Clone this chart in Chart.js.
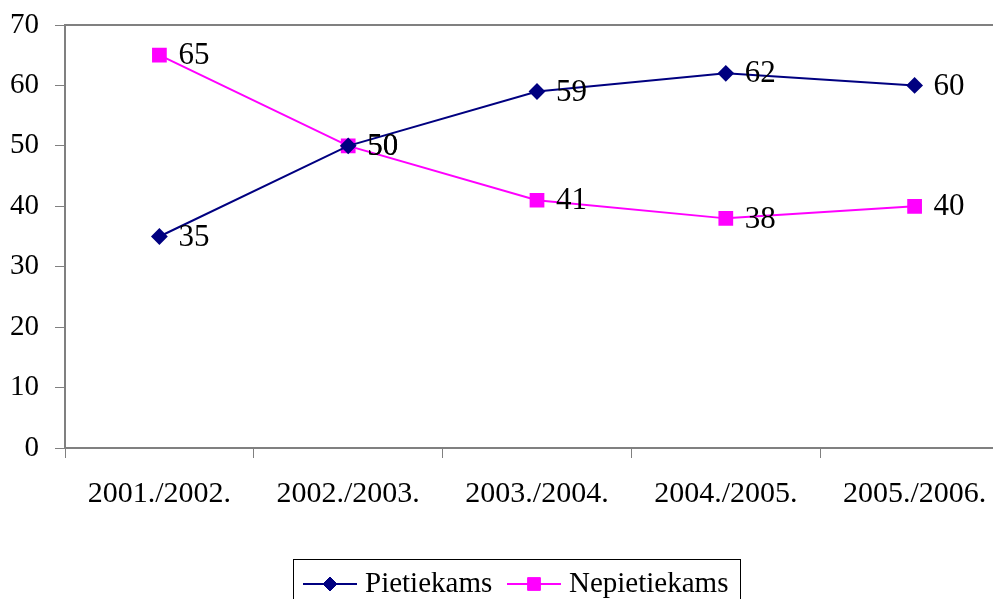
<!DOCTYPE html>
<html>
<head>
<meta charset="utf-8">
<script src="https://cdn.jsdelivr.net/npm/chart.js@4"></script>
<style>
  html, body { margin: 0; padding: 0; background: #fff; overflow: hidden; }
  #wrap { width: 1020px; height: 599px; }
</style>
</head>
<body>
<div id="wrap"><canvas id="chart"></canvas></div>
<script>
// Mācību gadi
var categories = ['2001./2002.', '2002./2003.', '2003./2004.', '2004./2005.', '2005./2006.'];
var pietiekams = [35, 50, 59, 62, 60];
var nepietiekams = [65, 50, 41, 38, 40];
var yTicks = [0, 10, 20, 30, 40, 50, 60, 70];

var serif = "'Liberation Serif', 'Times New Roman', serif";

// vērtību etiķetes pa labi no punktiem
var valueLabels = {
    id: 'valueLabels',
    afterDatasetsDraw: function(chart) {
        var ctx = chart.ctx;
        ctx.save();
        ctx.font = '31px ' + serif;
        ctx.fillStyle = '#000';
        ctx.textAlign = 'left';
        ctx.textBaseline = 'middle';
        chart.data.datasets.forEach(function(ds, i) {
            chart.getDatasetMeta(i).data.forEach(function(pt, j) {
                ctx.fillText(ds.data[j], pt.x + 19, pt.y + 1);
            });
        });
        ctx.restore();
    }
};

// rāmis augšā (zīmēšanas laukuma robeža)
var plotBorder = {
    id: 'plotBorder',
    afterDraw: function(chart) {
        var a = chart.chartArea, ctx = chart.ctx;
        ctx.save();
        ctx.strokeStyle = '#808080';
        ctx.lineWidth = 2;
        ctx.beginPath();
        ctx.moveTo(a.left, a.top);
        ctx.lineTo(a.right, a.top);
        ctx.stroke();
        ctx.restore();
    }
};

// leģenda kā Excel: līnija ar marķieri un rāmis
var excelLegend = {
    id: 'excelLegend',
    afterDraw: function(chart) {
        var ctx = chart.ctx;
        var bx = 293, by = 559, bw = 447, bh = 60;
        ctx.save();
        ctx.fillStyle = '#fff';
        ctx.fillRect(bx, by, bw, bh);
        ctx.strokeStyle = '#000';
        ctx.lineWidth = 1;
        ctx.strokeRect(bx + 0.5, by + 0.5, bw, bh);
        var items = [
            { x: 303, tx: 365 },
            { x: 507, tx: 569 }
        ];
        var cy = 584;
        chart.data.datasets.forEach(function(ds, i) {
            var it = items[i];
            ctx.strokeStyle = ds.borderColor;
            ctx.lineWidth = 2;
            ctx.beginPath();
            ctx.moveTo(it.x, cy);
            ctx.lineTo(it.x + 54, cy);
            ctx.stroke();
            ctx.fillStyle = ds.pointBackgroundColor;
            ctx.strokeStyle = ds.pointBorderColor;
            ctx.lineWidth = 1;
            Chart.helpers.drawPoint(ctx, {
                pointStyle: ds.pointStyle,
                radius: ds.pointRadius,
                borderWidth: 1,
                rotation: 0
            }, it.x + 27, cy);
            ctx.font = '29px ' + serif;
            ctx.fillStyle = '#000';
            ctx.textAlign = 'left';
            ctx.textBaseline = 'middle';
            ctx.fillText(ds.label, it.tx, cy);
        });
        ctx.restore();
    }
};

var chart = new Chart(document.getElementById('chart'), {
    type: 'line',
    data: {
        labels: categories,
        datasets: [{
            label: 'Pietiekams',
            data: pietiekams,
            borderColor: '#000080',
            borderWidth: 2,
            pointStyle: 'rectRot',
            pointRadius: 7,
            pointBackgroundColor: '#000080',
            pointBorderColor: '#000080',
            tension: 0
        }, {
            label: 'Nepietiekams',
            data: nepietiekams,
            borderColor: '#FF00FF',
            borderWidth: 2,
            pointStyle: 'rect',
            pointRadius: 9,
            pointBackgroundColor: '#FF00FF',
            pointBorderColor: '#FF00FF',
            tension: 0
        }]
    },
    options: {
        responsive: true,
        maintainAspectRatio: false,
        animation: false,
        layout: { padding: { top: 25, right: 4, bottom: 91, left: 0 } },
        plugins: {
            legend: { display: false },
            tooltip: { enabled: false }
        },
        scales: {
            x: {
                offset: true,
                grid: {
                    offset: true,
                    drawOnChartArea: false,
                    tickLength: 10,
                    tickColor: '#808080',
                    tickWidth: 1
                },
                border: { color: '#808080', width: 2 },
                ticks: {
                    color: '#000',
                    font: { family: serif, size: 30 },
                    padding: 18,
                    maxRotation: 0
                },
                afterFit: function(s) {
                    s.height = 60;
                    s.paddingLeft = 0;
                    s.paddingRight = 0;
                }
            },
            y: {
                min: 0,
                max: 70,
                afterBuildTicks: function(s) {
                    s.ticks = yTicks.map(function(v) { return { value: v }; });
                },
                grid: {
                    drawOnChartArea: false,
                    tickLength: 10,
                    tickColor: '#808080',
                    tickWidth: 1
                },
                border: { color: '#808080', width: 2 },
                ticks: {
                    color: '#000',
                    font: { family: serif, size: 29 },
                    padding: 16
                },
                afterFit: function(s) {
                    s.width = 65;
                    s.paddingTop = 0;
                    s.paddingBottom = 0;
                }
            }
        }
    },
    plugins: [plotBorder, valueLabels, excelLegend]
});
</script>
</body>
</html>
